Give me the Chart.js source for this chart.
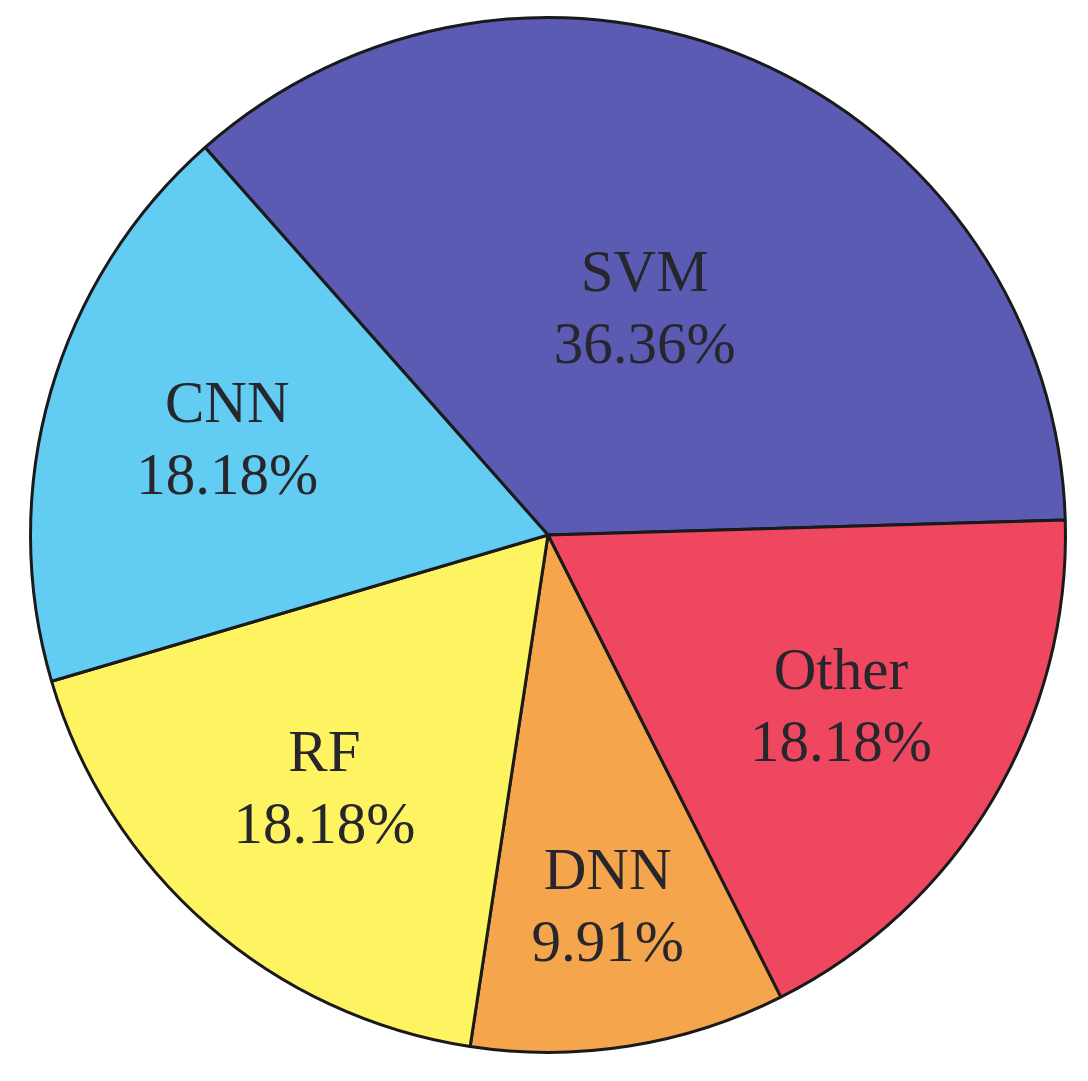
<!DOCTYPE html>
<html>
<head>
<meta charset="utf-8">
<script src="https://cdn.jsdelivr.net/npm/chart.js@4.4.1/dist/chart.umd.min.js"></script>
<style>
  html, body { margin: 0; padding: 0; background: #ffffff; }
  #wrap { width: 1088px; height: 1081px; }
</style>
</head>
<body>
<div id="wrap"><canvas id="c" width="1088" height="1081"></canvas></div>
<script>
const categories = ["SVM", "Other", "DNN", "RF", "CNN"];
const percentages = [36.36, 18.18, 9.91, 18.18, 18.18];
const percentLabels = ["36.36%", "18.18%", "9.91%", "18.18%", "18.18%"];
const sliceColors = ["#5B5BB3", "#EE475F", "#F5A54B", "#FEF462", "#62CCF2"];

// radial placement of each label as a fraction of the radius
const labelRadiusFrac = [0.47, 0.659, 0.733, 0.657, 0.645];

const labelPlugin = {
  id: 'sliceLabels',
  afterDatasetsDraw(chart) {
    const ctx = chart.ctx;
    const meta = chart.getDatasetMeta(0);
    ctx.save();
    ctx.font = '59px "Liberation Serif", "Times New Roman", serif';
    ctx.fillStyle = '#26262c';
    ctx.textAlign = 'center';
    ctx.textBaseline = 'middle';
    const lineGap = 72;
    meta.data.forEach((arc, i) => {
      const p = arc.getProps(['x', 'y', 'startAngle', 'endAngle', 'outerRadius'], true);
      const mid = (p.startAngle + p.endAngle) / 2;
      const r = p.outerRadius * labelRadiusFrac[i];
      const x = p.x + Math.cos(mid) * r;
      const y = p.y + Math.sin(mid) * r;
      ctx.fillText(categories[i], x, y - lineGap / 2);
      ctx.fillText(percentLabels[i], x, y + lineGap / 2);
    });
    ctx.restore();
  }
};

new Chart(document.getElementById('c'), {
  type: 'pie',
  data: {
    labels: categories,
    datasets: [{
      data: percentages,
      backgroundColor: sliceColors,
      borderColor: '#1a1a1a',
      borderWidth: 3
    }]
  },
  options: {
    responsive: false,
    animation: false,
    rotation: -41.5,
    layout: { padding: { left: 29, right: 21, top: 16, bottom: 27 } },
    plugins: {
      legend: { display: false },
      tooltip: { enabled: false },
      title: { display: false }
    }
  },
  plugins: [labelPlugin]
});
</script>
</body>
</html>
